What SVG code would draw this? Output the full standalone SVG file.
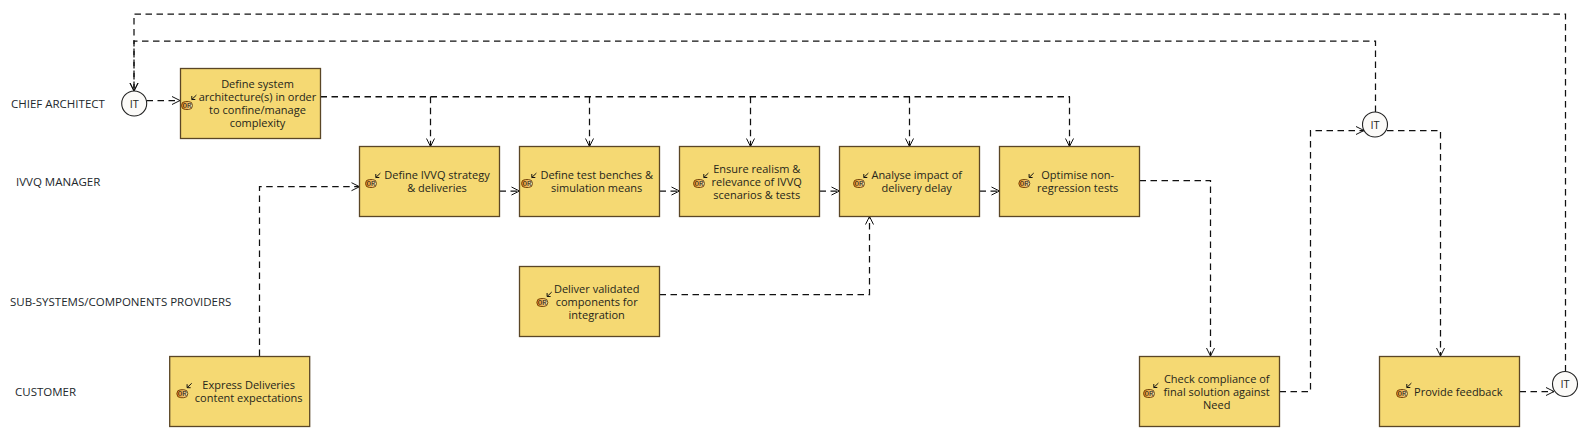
<svg xmlns="http://www.w3.org/2000/svg" width="1590" height="437" viewBox="0 0 1590 437">
<style>
text{font-family:"Open Sans","Noto Sans","Liberation Sans",sans-serif;font-size:11px;fill:#26261a}
.t{text-anchor:middle}
.lane{font-size:11.5px;fill:#22282c}
.b{fill:#f5d973;stroke:#5a4626;stroke-width:1.3}
.c{fill:#fbfaf8;stroke:#222;stroke-width:1.1}
.p{fill:url(#pg);stroke:#6b3c06;stroke-width:.9}
.o{font-family:"Liberation Mono",monospace;font-size:7.5px;text-anchor:middle;fill:#222}
.s{fill:none;stroke:#111;stroke-width:1}
.k{fill:none;stroke:#111;stroke-width:1.25;stroke-dasharray:6.500 4.500}
.tr{stroke-width:1.600}
.a{marker-end:url(#h)}
</style>
<defs>
<linearGradient id="pg" x1="0" x2="1" y1="0" y2="0"><stop offset="0" stop-color="#e48a14"/><stop offset="1" stop-color="#f6e2a8"/></linearGradient>
<marker id="h" markerUnits="userSpaceOnUse" markerWidth="12" markerHeight="12" refX="9.500" refY="6" orient="auto"><path d="M1.500 2 L9.500 6 L1.500 10" fill="none" stroke="#111" stroke-width="1"/></marker>
<g id="or"><rect class="p" x="-5.500" y="-4" width="11" height="8" rx="4"/><text class="o" x="0" y="2.600">OR</text><path class="s" d="M9.400 -10.400 L4.800 -6 M4.800 -9.500 V-6 H8.300"/></g>
</defs>
<rect width="1590" height="437" fill="#fff"/>
<g id="lanes">
<text class="lane" x="11" y="107.500">CHIEF ARCHITECT</text>
<text class="lane" x="16" y="185.500">IVVQ MANAGER</text>
<text class="lane" x="10" y="306">SUB-SYSTEMS/COMPONENTS PROVIDERS</text>
<text class="lane" x="15" y="396">CUSTOMER</text>
</g>
<g id="connectors">
<path class="k a" d="M1565.500 371.500V14H134V91"/>
<path class="k a" d="M1375.500 112V41H134V91"/>
<path class="k a" d="M146.500 100.500H180"/>
<path class="k tr" d="M320.500 96.700H1070"/>
<path class="k a" d="M430.500 96.700V146.500"/>
<path class="k a" d="M589.500 96.700V146.500"/>
<path class="k a" d="M750.500 96.700V146.500"/>
<path class="k a" d="M909.500 96.700V146.500"/>
<path class="k a" d="M1069.500 96.700V146.500"/>
<path class="k a" d="M259.500 356V186.700H359.500"/>
<path class="k a" d="M499.500 191H519.500"/>
<path class="k a" d="M659.500 191H679.500"/>
<path class="k a" d="M819.500 191H839.500"/>
<path class="k a" d="M979.500 191H999.500"/>
<path class="k a" d="M659.500 294.500H869.500V216.500"/>
<path class="k a" d="M1139.500 180.500H1210.500V356"/>
<path class="k a" d="M1279.500 391.500H1310.500V130.500H1364"/>
<path class="k a" d="M1387 130.500H1440.500V356"/>
<path class="k a" d="M1519.500 391.500H1554"/>
</g>
<g id="n-it1"><circle class="c" cx="134.200" cy="103.500" r="12.500"/><text class="t" x="134.200" y="107.500">IT</text></g>
<g id="n-it2"><circle class="c" cx="1375" cy="124.500" r="12.500"/><text class="t" x="1375" y="128.500">IT</text></g>
<g id="n-it3"><circle class="c" cx="1565" cy="384" r="12.500"/><text class="t" x="1565" y="388">IT</text></g>
<g id="n-arch"><rect class="b" x="180.500" y="68.500" width="140" height="70"/><use href="#or" x="187" y="105.500"/><text class="t" x="257.500" y="87.500">Define system</text><text class="t" x="257.500" y="100.500">architecture(s) in order</text><text class="t" x="257.500" y="113.500">to confine/manage</text><text class="t" x="257.500" y="126.500">complexity</text></g>
<g id="n-strategy"><rect class="b" x="359.500" y="146.500" width="140" height="70"/><use href="#or" x="371" y="183.500"/><text class="t" x="437" y="178.500">Define IVVQ strategy</text><text class="t" x="437" y="191.500">&amp; deliveries</text></g>
<g id="n-bench"><rect class="b" x="519.500" y="146.500" width="140" height="70"/><use href="#or" x="527" y="183.500"/><text class="t" x="596.700" y="178.500">Define test benches &amp;</text><text class="t" x="596.700" y="191.500">simulation means</text></g>
<g id="n-realism"><rect class="b" x="679.500" y="146.500" width="140" height="70"/><use href="#or" x="699" y="183.500"/><text class="t" x="756.700" y="172.500">Ensure realism &amp;</text><text class="t" x="756.700" y="185.500">relevance of IVVQ</text><text class="t" x="756.700" y="198.500">scenarios &amp; tests</text></g>
<g id="n-impact"><rect class="b" x="839.500" y="146.500" width="140" height="70"/><use href="#or" x="859" y="183.500"/><text class="t" x="916.700" y="178.500">Analyse impact of</text><text class="t" x="916.700" y="191.500">delivery delay</text></g>
<g id="n-optimise"><rect class="b" x="999.500" y="146.500" width="140" height="70"/><use href="#or" x="1024.300" y="183.500"/><text class="t" x="1077.700" y="178.500">Optimise non-</text><text class="t" x="1077.700" y="191.500">regression tests</text></g>
<g id="n-deliver"><rect class="b" x="519.500" y="266.500" width="140" height="70"/><use href="#or" x="542.300" y="302.500"/><text class="t" x="596.700" y="293">Deliver validated</text><text class="t" x="596.700" y="306">components for</text><text class="t" x="596.700" y="319">integration</text></g>
<g id="n-express"><rect class="b" x="169.700" y="356.500" width="140" height="70"/><use href="#or" x="182.300" y="393.700"/><text class="t" x="248.700" y="388.500">Express Deliveries</text><text class="t" x="248.700" y="401.500">content expectations</text></g>
<g id="n-check"><rect class="b" x="1139.500" y="356.500" width="140" height="70"/><use href="#or" x="1149" y="393.500"/><text class="t" x="1216.700" y="383">Check compliance of</text><text class="t" x="1216.700" y="396">final solution against</text><text class="t" x="1216.700" y="409">Need</text></g>
<g id="n-feedback"><rect class="b" x="1379.500" y="356.500" width="140" height="70"/><use href="#or" x="1402" y="393.500"/><text class="t" x="1458.300" y="396">Provide feedback</text></g>
</svg>
